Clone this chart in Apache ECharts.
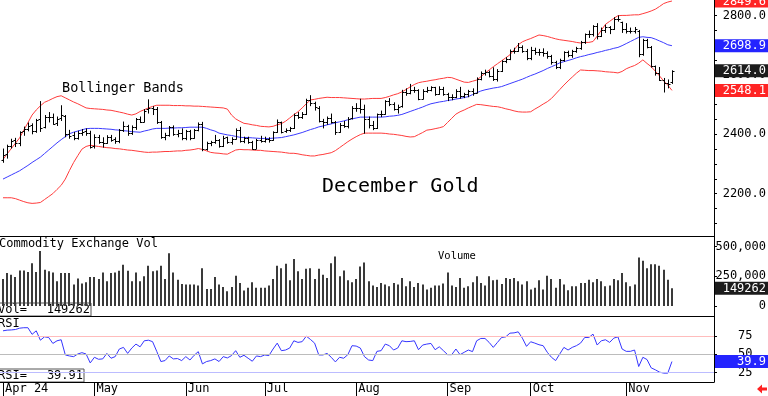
<!DOCTYPE html>
<html>
<head>
<meta charset="utf-8">
<script src="https://cdn.jsdelivr.net/npm/echarts@6/dist/echarts.min.js"></script>
<style>
  html, body { margin: 0; padding: 0; background: #fff; }
  #chart { width: 768px; height: 396px; }
</style>
</head>
<body>
<div id="chart"></div>
<script>
// month labels on the time axis and the bar index where each month starts
var months = ['Apr 24', 'May', 'Jun', 'Jul', 'Aug', 'Sep', 'Oct', 'Nov'];
var monthStarts = [0, 22, 44, 63, 85, 107, 127, 150];

// daily bars, December gold: [open, high, low, close]
var ohlc = [
  [2312,2352,2304,2330],[2332,2365,2318,2360],[2362,2385,2352,2379],[2380,2388,2357,2369],[2370,2410,2360,2407],
  [2410,2426,2395,2417],[2418,2440,2410,2429],[2430,2437,2400,2410],[2412,2452,2405,2448],[2450,2512,2408,2420],
  [2425,2465,2420,2458],[2458,2475,2440,2458],[2460,2470,2432,2436],[2438,2460,2428,2453],[2455,2498,2445,2465],
  [2462,2465,2390,2400],[2402,2415,2385,2395],[2396,2408,2380,2388],[2388,2412,2382,2404],[2404,2418,2395,2409],
  [2410,2420,2395,2406],[2406,2412,2352,2357],
  [2360,2400,2352,2390],[2392,2398,2368,2373],[2374,2390,2355,2370],[2372,2397,2368,2392],[2392,2398,2375,2382],
  [2383,2390,2368,2377],[2378,2418,2370,2413],[2414,2443,2408,2427],[2428,2432,2395,2403],[2404,2430,2398,2424],
  [2425,2455,2415,2451],[2452,2460,2438,2442],[2443,2485,2440,2480],[2485,2518,2470,2489],[2488,2495,2465,2485],
  [2485,2492,2435,2442],[2440,2445,2385,2392],[2390,2405,2380,2396],[2398,2428,2392,2423],[2424,2430,2395,2400],
  [2400,2415,2390,2404],[2405,2420,2380,2388],
  [2388,2415,2380,2410],[2410,2415,2380,2387],[2388,2418,2385,2414],[2415,2440,2410,2434],[2435,2442,2343,2352],
  [2352,2375,2345,2369],[2370,2378,2360,2374],[2375,2398,2368,2382],[2382,2384,2355,2360],[2360,2395,2357,2389],
  [2390,2392,2368,2375],[2375,2390,2365,2385],[2385,2420,2382,2415],[2416,2425,2372,2376],[2376,2392,2370,2388],
  [2388,2392,2368,2373],[2373,2378,2348,2351],[2352,2385,2350,2380],[2380,2395,2372,2378],
  [2378,2392,2372,2384],[2384,2390,2372,2381],[2382,2410,2378,2407],[2408,2450,2405,2442],[2440,2443,2403,2409],
  [2410,2420,2405,2413],[2414,2425,2408,2420],[2420,2470,2418,2464],[2464,2475,2452,2459],[2460,2475,2452,2470],
  [2470,2520,2465,2516],[2516,2532,2495,2506],[2505,2510,2480,2491],[2490,2495,2440,2446],[2446,2452,2420,2441],
  [2441,2460,2432,2454],[2454,2470,2436,2441],[2440,2445,2398,2408],[2408,2438,2405,2431],[2431,2445,2422,2427],
  [2427,2458,2420,2453],[2454,2495,2450,2489],
  [2490,2505,2476,2488],[2488,2520,2470,2484],[2484,2500,2402,2450],[2450,2460,2420,2430],[2430,2445,2414,2422],
  [2422,2470,2418,2467],[2468,2480,2458,2470],[2470,2515,2466,2511],[2512,2522,2495,2503],[2503,2508,2480,2485],
  [2485,2500,2470,2493],[2494,2550,2490,2544],[2544,2555,2530,2540],[2540,2570,2535,2550],[2550,2560,2540,2548],
  [2548,2552,2515,2520],[2520,2552,2518,2547],[2547,2560,2540,2551],[2551,2562,2545,2558],[2558,2560,2530,2537],
  [2537,2562,2533,2554],[2554,2560,2530,2535],
  [2535,2540,2512,2525],[2525,2535,2515,2526],[2526,2552,2522,2547],[2547,2560,2520,2528],[2528,2540,2522,2535],
  [2535,2550,2525,2546],[2546,2555,2530,2541],[2541,2592,2538,2587],[2587,2612,2582,2606],[2606,2618,2598,2610],
  [2610,2615,2592,2596],[2596,2626,2580,2586],[2586,2620,2578,2614],[2614,2650,2610,2647],[2647,2660,2640,2654],
  [2654,2686,2650,2682],[2682,2692,2672,2682],[2682,2708,2678,2696],[2696,2700,2675,2682],[2682,2688,2650,2657],
  [2657,2695,2650,2686],[2686,2692,2668,2679],[2679,2688,2665,2678],[2678,2690,2662,2675],[2675,2680,2655,2664],
  [2664,2668,2635,2643],[2643,2648,2620,2628],[2628,2655,2620,2650],[2650,2680,2645,2676],[2676,2682,2660,2668],
  [2668,2685,2658,2680],[2680,2695,2675,2691],[2691,2715,2685,2710],[2710,2740,2705,2738],[2738,2750,2725,2737],
  [2737,2768,2730,2765],[2765,2775,2720,2731],[2731,2760,2728,2751],[2751,2770,2742,2762],[2762,2765,2738,2756],
  [2756,2795,2752,2789],[2789,2801,2780,2790],[2778,2780,2742,2756],
  [2756,2775,2740,2749],[2749,2760,2740,2748],[2748,2762,2740,2754],[2750,2752,2660,2670],[2670,2722,2665,2717],
  [2717,2722,2690,2695],[2695,2698,2625,2629],[2629,2632,2598,2607],[2607,2627,2580,2582],[2582,2590,2541,2573],
  [2573,2585,2555,2571],[2575,2616,2570,2614]
];

// Bollinger bands (20 day)
var bbUpper = [
  2315,2334,2352,2370,2388,2414,2439,2465,2482,2496, 2508,2514,2521,2527,2530,2523,2516,2509,2503,2496,
  2489,2487,2486,2485,2484,2482,2481,2478,2475,2472, 2468,2465,2469,2477,2483,2489,2494,2498,2498,2498,
  2498,2497,2497,2497,2496,2496,2495,2495,2494,2493, 2492,2491,2490,2489,2485,2465,2452,2444,2437,2435,
  2432,2430,2427,2426,2425,2427,2432,2436,2444,2455, 2466,2476,2489,2503,2516,2518,2521,2523,2525,2524,
  2524,2524,2523,2522,2521,2520,2519,2519,2520,2521, 2521,2521,2524,2528,2533,2537,2543,2551,2560,2568,
  2574,2577,2579,2582,2584,2587,2589,2592,2591,2586, 2581,2576,2575,2579,2583,2594,2606,2617,2628,2638,
  2648,2658,2668,2685,2702,2712,2718,2723,2729,2735, 2733,2730,2726,2722,2719,2717,2715,2713,2710,2708,
  2710,2710,2713,2731,2751,2771,2781,2791,2800,2801, 2801,2802,2803,2803,2807,2811,2816,2822,2831,2841,
  2846,2849.6
];
var bbMid = [
  2249,2256,2263,2270,2277,2286,2295,2305,2314,2323, 2335,2347,2359,2371,2382,2392,2402,2407,2411,2415,
  2419,2420,2420,2420,2419,2418,2417,2415,2414,2412, 2411,2409,2408,2407,2411,2414,2418,2420,2420,2420,
  2421,2421,2422,2422,2423,2424,2424,2424,2424,2420, 2415,2411,2404,2401,2398,2396,2393,2390,2389,2389,
  2388,2387,2386,2386,2386,2387,2388,2389,2392,2395, 2398,2402,2406,2411,2416,2420,2425,2428,2432,2435,
  2439,2442,2445,2449,2452,2455,2458,2458,2458,2458, 2458,2458,2459,2461,2462,2464,2467,2472,2477,2482,
  2487,2492,2498,2503,2506,2509,2511,2514,2516,2519, 2521,2524,2527,2534,2540,2546,2550,2553,2556,2558,
  2561,2566,2571,2576,2581,2586,2592,2598,2603,2609, 2615,2622,2628,2634,2641,2645,2649,2653,2658,2662,
  2665,2669,2672,2676,2679,2683,2686,2690,2693,2699, 2706,2713,2720,2727,2729,2727,2726,2721,2715,2709,
  2702,2698.9
];
var bbLower = [
  2186,2186,2186,2183,2178,2173,2169,2167,2168,2170, 2180,2190,2200,2214,2228,2249,2278,2305,2328,2350,
  2359,2363,2361,2359,2357,2355,2354,2352,2351,2349, 2347,2346,2344,2342,2340,2339,2340,2340,2341,2342,
  2342,2343,2344,2344,2346,2347,2349,2352,2349,2344, 2339,2337,2336,2334,2333,2340,2347,2349,2348,2348,
  2347,2346,2346,2344,2343,2342,2341,2340,2338,2336, 2336,2334,2331,2329,2327,2327,2330,2332,2335,2338,
  2345,2355,2365,2375,2384,2392,2399,2404,2404,2404, 2404,2404,2403,2401,2400,2398,2396,2393,2391,2392,
  2399,2406,2414,2416,2419,2422,2426,2440,2454,2468, 2476,2482,2489,2495,2501,2500,2498,2496,2494,2493,
  2490,2486,2483,2479,2476,2475,2475,2476,2485,2493, 2502,2510,2521,2536,2551,2566,2580,2593,2606,2617,
  2616,2615,2615,2614,2613,2611,2610,2609,2607,2612, 2621,2627,2632,2640,2651,2639,2628,2613,2597,2580,
  2566,2548.1
];

// Commodity Exchange volume
var volume = [
  228000,278000,264000,244000,300000,300000,286000,361000,286000,464000,
  306000,292000,283000,208000,278000,278000,278000,181000,231000,189000,
  200000,244000,244000,228000,283000,208000,278000,283000,297000,347000,
  297000,208000,283000,208000,250000,339000,292000,300000,339000,228000,
  444000,283000,222000,186000,181000,181000,181000,172000,319000,144000,
  144000,244000,181000,161000,125000,161000,256000,194000,131000,153000,
  200000,153000,153000,153000,172000,228000,339000,319000,356000,217000,
  397000,292000,228000,314000,319000,228000,314000,264000,236000,361000,
  417000,250000,300000,217000,200000,228000,333000,367000,208000,172000,
  161000,194000,181000,167000,194000,181000,236000,167000,208000,161000,
  194000,181000,139000,153000,172000,172000,189000,283000,172000,161000,
  236000,153000,167000,200000,250000,194000,172000,250000,217000,222000,
  186000,236000,228000,236000,208000,181000,208000,139000,153000,217000,
  139000,256000,228000,153000,228000,181000,133000,167000,167000,194000,
  194000,222000,200000,228000,208000,167000,172000,228000,217000,278000,
  200000,167000,181000,408000,381000,319000,353000,353000,339000,306000,
  222000,149262
];

// RSI
var rsi = [
  81.8,82.7,83,83.6,85.4,86,86,77,81.8,69, 73.6,72.7,64.6,68.2,69.6,48.9,47.5,46.6,50.2,52,
  50.2,38,45.7,43,43.5,51,44.4,46.6,57,59.2, 51,58.3,63.7,60,68.2,69,67,53.8,39.9,41.2,
  47.5,43.5,44,41.2,46.6,42,48.4,53.4,36.7,39.9, 41.2,43.5,39.9,46.6,44.8,48,54.7,45.7,48.4,44.4,
  40.3,47.5,46.6,48.9,48,57,65,54.7,55.6,58.3, 68.2,66,67,74.5,70,65,48.9,48.9,51,45.7,
  39.4,45.7,44.4,49.3,61.5,61,58.3,46.6,42,41.2, 53.8,54.7,63.7,61.5,55.6,58.3,68.2,67,67.3,68.2,
  56,62.4,63.7,64.6,56,60,54.7,49.3,49.3,57, 49.3,52.5,55.6,53.4,68.2,71.4,71.4,66,59.2,66,
  72.7,73.6,78.6,79,80.4,71.8,60.6,66.9,65,62.8, 61.5,52.5,45.7,41.2,50.2,59.2,55.6,59.2,61.5,65,
  72.7,72.7,77.3,62.4,68.2,69.6,66,71.8,73.6,57, 53.8,53.8,55.6,33.1,45.7,42.6,31.3,28.6,25.5,24.1,
  24.1,39.91
];

var priceLabels = [2200, 2400, 2600, 2800];
var volumeLabels = [0, 250000, 500000];
var rsiLabels = [25, 50, 75];

var mono = '"DejaVu Sans Mono", monospace';
var last = ohlc.length - 1;
var lastClose = ohlc[last][3];
var lastUpper = bbUpper[last], lastMid = bbMid[last], lastLower = bbLower[last];
var lastVol = volume[last], lastRsi = rsi[last];

var priceTicks = [];
for (var t = 2100; t <= 2850; t += 50) priceTicks.push(t);

var xMin = -0.72, xMax = 171.12;

function boxStyle(bg) {
  return { backgroundColor: bg, color: '#fff', fontFamily: mono, fontSize: 12, width: 45, align: 'right',
    padding: [1, 2, 0, 6], lineHeight: 12 };
}
var boxRich = { red: boxStyle('#ff2424'), blue: boxStyle('#2424ff'), black: boxStyle('#1c1c1c') };

function hiddenX(grid) {
  return { type: 'value', gridIndex: grid, min: xMin, max: xMax,
    axisLine: { show: true, onZero: false, lineStyle: { color: '#000' } },
    axisTick: { show: false }, axisLabel: { show: false }, splitLine: { show: false } };
}
function boxAxis(grid, min, max, values, fmt) {
  return { type: 'value', gridIndex: grid, position: 'right', min: min, max: max, z: 5,
    axisLine: { show: false, onZero: false }, axisTick: { show: false }, splitLine: { show: false },
    axisLabel: { customValues: values, margin: 1, align: 'left', formatter: fmt, rich: boxRich } };
}

function renderBar(params, api) {
  var i = api.value(0);
  var pO = api.coord([i, api.value(1)]);
  var pH = api.coord([i, api.value(2)]);
  var pL = api.coord([i, api.value(3)]);
  var pC = api.coord([i, api.value(4)]);
  var x = Math.round(pH[0]) + 0.5;
  var yo = Math.round(pO[1]) + 0.5, yc = Math.round(pC[1]) + 0.5;
  var st = { stroke: '#000', lineWidth: 1 };
  return { type: 'group', children: [
    { type: 'line', shape: { x1: x, y1: pH[1], x2: x, y2: pL[1] }, style: st },
    { type: 'line', shape: { x1: x - 2, y1: yo, x2: x, y2: yo }, style: st },
    { type: 'line', shape: { x1: x, y1: yc, x2: x + 2, y2: yc }, style: st }
  ] };
}
function renderVol(params, api) {
  var i = api.value(0);
  var p0 = api.coord([i, 0]), p1 = api.coord([i, api.value(1)]);
  var x = Math.round(p0[0]);
  return { type: 'rect', shape: { x: x - 1, y: p1[1], width: 2, height: p0[1] - p1[1] }, style: { fill: '#3a3a3a' } };
}

function band(data, color) {
  return { type: 'line', xAxisIndex: 0, yAxisIndex: 0, z: 2, showSymbol: false, silent: true,
    data: data.map(function(v, i) { return [i, v]; }),
    lineStyle: { color: color, width: 1 } };
}

var chart = echarts.init(document.getElementById('chart'));
chart.setOption({
  animation: false,
  grid: [
    { left: 0, right: 54, top: 0, height: 236, outerBoundsMode: 'none' },
    { left: 0, right: 54, top: 236, height: 80, outerBoundsMode: 'none' },
    { left: 0, right: 54, top: 316, height: 66, outerBoundsMode: 'none' }
  ],
  xAxis: [
    hiddenX(0),
    hiddenX(1),
    { type: 'value', gridIndex: 2, min: xMin, max: xMax,
      axisLine: { show: true, onZero: false, lineStyle: { color: '#000' } },
      axisTick: { show: true, customValues: monthStarts, length: 14, lineStyle: { color: '#000' } },
      axisLabel: { show: true, customValues: monthStarts, align: 'left', margin: 1, padding: [0, 0, 0, 2],
        color: '#000', fontFamily: mono, fontSize: 12,
        formatter: function(v) { return months[monthStarts.indexOf(v)]; } },
      splitLine: { show: false } }
  ],
  yAxis: [
    { type: 'value', gridIndex: 0, position: 'right', min: 2057, max: 2853,
      axisLine: { show: true, onZero: false, lineStyle: { color: '#000' } },
      axisTick: { show: true, customValues: priceTicks, length: 3, lineStyle: { color: '#000' } },
      axisLabel: { customValues: priceLabels, align: 'right', margin: 52, color: '#000', fontFamily: mono, fontSize: 12,
        formatter: function(v) { return v.toFixed(1); } },
      splitLine: { show: false } },
    boxAxis(0, 2057, 2853, [lastUpper, lastMid, lastClose, lastLower], function(v) {
      var k = v === lastMid ? 'blue' : (v === lastClose ? 'black' : 'red');
      return '{' + k + '|' + v.toFixed(1) + '}';
    }),
    { type: 'value', gridIndex: 1, position: 'right', min: -84000, max: 590000,
      axisLine: { show: true, onZero: false, lineStyle: { color: '#000' } },
      axisTick: { show: true, customValues: volumeLabels, length: 3, lineStyle: { color: '#000' } },
      axisLabel: { customValues: volumeLabels, align: 'right', margin: 52, color: '#000', fontFamily: mono, fontSize: 12 },
      splitLine: { show: false } },
    boxAxis(1, -84000, 590000, [lastVol], function(v) { return '{black|' + v + '}'; }),
    { type: 'value', gridIndex: 2, position: 'right', min: 12, max: 102,
      axisLine: { show: true, onZero: false, lineStyle: { color: '#000' } },
      axisTick: { show: true, customValues: rsiLabels, length: 3, lineStyle: { color: '#000' } },
      axisLabel: { customValues: rsiLabels, align: 'left', margin: 24, color: '#000', fontFamily: mono, fontSize: 12 },
      splitLine: { show: false } },
    boxAxis(2, 12, 102, [lastRsi], function(v) { return '{blue|' + v.toFixed(1) + '}'; })
  ],
  series: [
    band(bbUpper, '#ff3b3b'),
    band(bbMid, '#3b3bff'),
    band(bbLower, '#ff3b3b'),
    { type: 'custom', xAxisIndex: 0, yAxisIndex: 0, z: 3, silent: true, renderItem: renderBar,
      encode: { x: 0, y: [1, 2, 3, 4] },
      data: ohlc.map(function(d, i) { return [i, d[0], d[1], d[2], d[3]]; }) },
    { type: 'custom', xAxisIndex: 1, yAxisIndex: 2, silent: true, renderItem: renderVol,
      encode: { x: 0, y: 1 },
      data: volume.map(function(v, i) { return [i, v]; }) },
    { type: 'line', xAxisIndex: 2, yAxisIndex: 4, showSymbol: false, silent: true,
      data: rsi.map(function(v, i) { return [i, v]; }),
      lineStyle: { color: '#3535ff', width: 1 },
      markLine: { silent: true, symbol: 'none', label: { show: false }, animation: false,
        lineStyle: { type: 'solid', width: 1 },
        data: [
          { yAxis: 75, lineStyle: { color: '#ffbcbc', type: 'solid' } },
          { yAxis: 50, lineStyle: { color: '#bcbcbc', type: 'solid' } },
          { yAxis: 25, lineStyle: { color: '#bcbcff', type: 'solid' } }
        ] } }
  ],
  graphic: [
    { type: 'text', x: 62, y: 88, z: 100, style: { text: 'Bollinger Bands', font: '13.5px ' + mono, fill: '#000', verticalAlign: 'middle' } },
    { type: 'text', x: 322, y: 187, z: 100, style: { text: 'December Gold', font: '20px ' + mono, fill: '#000', verticalAlign: 'middle' } },
    { type: 'text', x: -1, y: 244, z: 100, style: { text: 'Commodity Exchange Vol', font: '12px ' + mono, fill: '#000', verticalAlign: 'middle' } },
    { type: 'text', x: 438, y: 256, z: 100, style: { text: 'Volume', font: '10.5px ' + mono, fill: '#000', verticalAlign: 'middle' } },
    { type: 'text', x: -2, y: 324, z: 100, style: { text: 'RSI', font: '12px ' + mono, fill: '#000', verticalAlign: 'middle' } },
    { type: 'group', x: 0, y: 303, z: 100, children: [
      { type: 'rect', shape: { x: -1, y: 0, width: 92, height: 13 }, style: { fill: '#fff', stroke: '#555', lineWidth: 1 } },
      { type: 'text', x: -2, y: 7, style: { text: 'Vol=', font: '12px ' + mono, fill: '#000', verticalAlign: 'middle' } },
      { type: 'text', x: 90, y: 7, style: { text: String(lastVol), font: '12px ' + mono, fill: '#000', align: 'right', verticalAlign: 'middle' } }
    ] },
    { type: 'group', x: 0, y: 369, z: 100, children: [
      { type: 'rect', shape: { x: -1, y: 0, width: 85, height: 13 }, style: { fill: '#fff', stroke: '#555', lineWidth: 1 } },
      { type: 'text', x: -2, y: 7, style: { text: 'RSI=', font: '12px ' + mono, fill: '#000', verticalAlign: 'middle' } },
      { type: 'text', x: 83, y: 7, style: { text: lastRsi.toFixed(2), font: '12px ' + mono, fill: '#000', align: 'right', verticalAlign: 'middle' } }
    ] },
    { type: 'polygon', z: 100, shape: { points: [[757, 389], [762, 384.5], [762, 387.5], [767, 387.5], [767, 390.5], [762, 390.5], [762, 393.5]] },
      style: { fill: '#ff2020' } }
  ]
});
window.addEventListener('resize', function() { chart.resize(); });
</script>
</body>
</html>
